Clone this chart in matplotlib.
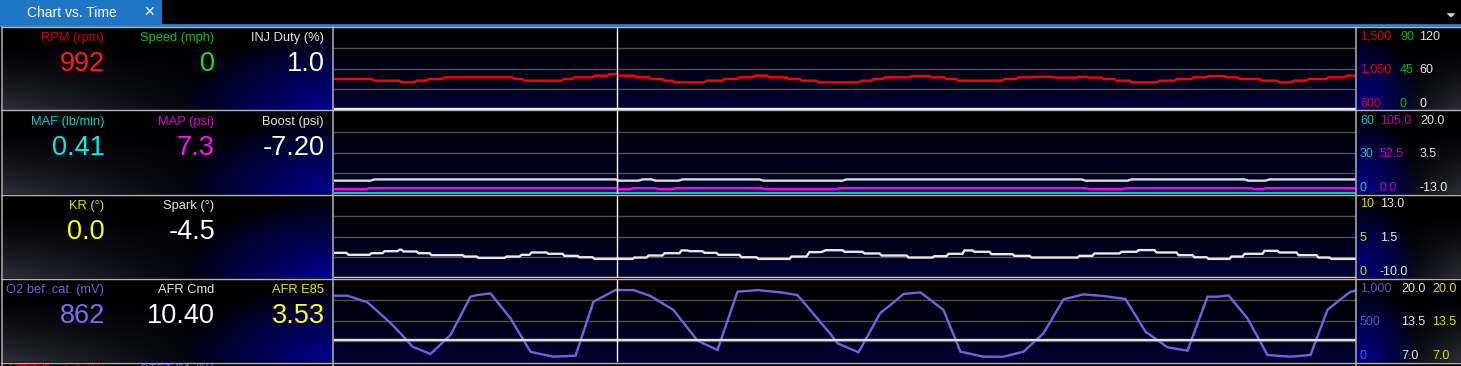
import numpy as np
import matplotlib
matplotlib.use("Agg")
import matplotlib.pyplot as plt
from matplotlib import transforms
from matplotlib.lines import Line2D
from matplotlib.patches import Rectangle, Polygon

W, H = 1461, 366
plt.rcParams['font.family'] = ['Liberation Sans', 'DejaVu Sans']

# ---------------- data (time in seconds across the visible window) ----------------
window_s = 10.22
cursor_s = 2.83
const_t = [0.0, window_s]

# RPM: plateaus (start, end, value)
rpm_t0 = [0.00, 0.41, 0.68, 0.83, 0.95, 1.11, 1.81, 1.91, 2.30, 2.41, 2.61, 2.76, 2.86, 3.03, 3.18, 3.31, 3.41, 3.73,
          3.91, 4.06, 4.21, 4.36, 4.55, 4.68, 4.85, 5.28, 5.40, 5.51, 5.78, 5.98, 6.13, 6.25, 6.71, 6.85, 7.01, 7.21,
          7.46, 7.55, 7.70, 7.83, 7.98, 8.26, 8.43, 8.60, 8.75, 8.93, 9.06, 9.28, 9.45, 9.60, 9.75, 9.95, 10.13]
rpm_t1 = [0.38, 0.66, 0.81, 0.93, 1.09, 1.79, 1.89, 2.28, 2.39, 2.59, 2.74, 2.84, 3.01, 3.16, 3.29, 3.39, 3.71, 3.89,
          4.04, 4.19, 4.34, 4.53, 4.66, 4.83, 5.26, 5.38, 5.49, 5.76, 5.96, 6.11, 6.23, 6.69, 6.83, 6.99, 7.19, 7.44,
          7.53, 7.68, 7.81, 7.96, 8.24, 8.41, 8.58, 8.73, 8.91, 9.04, 9.26, 9.43, 9.58, 9.73, 9.93, 10.11, 10.22]
rpm = [936, 918, 900, 918, 936, 954, 936, 918, 936, 954, 972, 990, 972, 954, 936, 918, 900, 918, 936, 954, 972, 954,
       936, 918, 900, 918, 936, 954, 968, 954, 936, 918, 936, 954, 960, 952, 960, 952, 936, 918, 900, 918, 936, 954,
       968, 954, 936, 918, 900, 918, 936, 954, 972]
speed_mph = [0, 0]
inj_duty = [1.0, 1.0]

maf = [0.41, 0.41]
map_t0 = [0.00, 0.36, 2.85, 2.99, 3.26, 3.42, 4.32, 5.06, 7.56, 7.92, 9.21, 9.33]
map_t1 = [0.32, 2.82, 2.96, 3.22, 3.38, 4.28, 5.02, 7.52, 7.88, 9.18, 9.29, 10.22]
map_psi = [6.0, 7.3, 6.0, 7.3, 6.0, 7.3, 6.0, 7.3, 6.0, 7.3, 6.0, 7.3]
boost_t0 = [0.00, 0.41, 2.85, 3.09, 3.22, 3.49, 4.30, 5.13, 7.52, 7.98, 9.15, 9.36]
boost_t1 = [0.37, 2.82, 3.05, 3.18, 3.45, 4.26, 5.09, 7.48, 7.94, 9.11, 9.32, 10.22]
boost_psi = [-7.7, -7.2, -7.7, -7.2, -7.7, -7.2, -7.7, -7.2, -7.7, -7.2, -7.7, -7.2]

kr = [0.0, 0.0]
spark_t0 = [0.00, 0.15, 0.38, 0.51, 0.66, 0.70, 0.85, 0.98, 1.31, 1.45, 1.73, 1.88, 1.98, 2.15, 2.31, 2.46, 2.61, 3.01,
            3.15, 3.31, 3.48, 3.56, 3.71, 3.85, 4.08, 4.25, 4.58, 4.76, 4.92, 5.11, 5.31, 5.48, 5.75, 6.01, 6.15, 6.31,
            6.41, 6.58, 6.81, 6.98, 7.46, 7.61, 7.88, 8.05, 8.23, 8.45, 8.61, 8.75, 8.98, 9.11, 9.31, 9.46, 9.65, 9.85,
            9.98]
spark_t1 = [0.13, 0.36, 0.49, 0.64, 0.68, 0.83, 0.96, 1.29, 1.43, 1.71, 1.86, 1.96, 2.13, 2.29, 2.44, 2.59, 2.99, 3.13,
            3.29, 3.46, 3.54, 3.69, 3.83, 4.06, 4.23, 4.56, 4.73, 4.88, 5.09, 5.29, 5.46, 5.73, 5.99, 6.13, 6.29, 6.39,
            6.56, 6.79, 6.96, 7.44, 7.59, 7.86, 8.03, 8.21, 8.43, 8.59, 8.73, 8.96, 9.09, 9.29, 9.44, 9.63, 9.83, 9.96,
            10.22]
spark_deg = [-3.03, -3.58, -3.13, -2.57, -2.17, -2.65, -3.13, -3.67, -4.05, -4.42, -4.05, -3.58, -2.93, -3.30, -3.86,
             -4.25, -4.70, -4.33, -3.77, -3.13, -2.37, -2.57, -3.03, -3.58, -4.25, -4.70, -4.05, -2.83, -2.30, -2.74,
             -3.20, -3.77, -4.33, -3.95, -3.30, -2.37, -2.74, -3.40, -3.86, -4.33, -3.86, -3.20, -2.74, -2.27, -2.93,
             -3.67, -4.25, -4.70, -4.05, -3.30, -2.47, -2.93, -3.67, -4.33, -4.70]

o2_t = [0.00, 0.14, 0.34, 0.50, 0.59, 0.67, 0.79, 0.97, 1.17, 1.37, 1.44, 1.57, 1.77, 1.97, 2.04, 2.20, 2.42, 2.60,
        2.82, 3.00, 3.17, 3.40, 3.64, 3.84, 4.04, 4.24, 4.47, 4.64, 4.97, 5.04, 5.25, 5.47, 5.57, 5.70, 5.87, 6.10,
        6.27, 6.50, 6.70, 6.90, 7.10, 7.30, 7.50, 7.70, 7.92, 8.12, 8.34, 8.54, 8.74, 8.84, 8.95, 9.14, 9.34, 9.57,
        9.77, 9.94, 10.04, 10.17, 10.22]
o2_mv = [799, 799, 719, 546, 446, 345, 185, 96, 325, 787, 807, 827, 526, 124, 104, 64, 76, 727, 867, 867, 795, 627,
         257, 145, 847, 867, 839, 807, 337, 225, 117, 594, 687, 819, 839, 627, 124, 64, 64, 124, 345, 755, 815, 795,
         759, 365, 177, 136, 787, 787, 803, 526, 84, 64, 84, 627, 727, 847, 860]
afr_cmd = [10.40, 10.40]
afr_e85 = [3.53, 3.53]

# readouts at the cursor
rpm_now, speed_now, inj_now = 992, 0, 1.0
maf_now, map_now, boost_now = 0.41, 7.3, -7.20
kr_now, spark_now = 0.0, -4.5
o2_now, afr_cmd_now, afr_e85_now = 862, 10.40, 3.53

tab_title = "Chart vs. Time"
next_row_names = ['LTFT Bank 1 (%)', 'STFT B1 (%)']


def plateaus(t0, t1, v):
    t = np.ravel(np.column_stack([t0, t1]))
    y = np.repeat(np.asarray(v, float), 2)
    return t, y


rows = [
    [dict(name='RPM (rpm)', now=rpm_now, nf='{:.0f}', lim=(600, 1500), tf='{:,.0f}',
          lab='#d40000', val='#ff1a1a', tick='#e00000', line='#ff0000', data=plateaus(rpm_t0, rpm_t1, rpm)),
     dict(name='Speed (mph)', now=speed_now, nf='{:.0f}', lim=(0, 90), tf='{:.0f}',
          lab='#00c400', val='#14e614', tick='#00c000', line='#00d000', data=(const_t, speed_mph)),
     dict(name='INJ Duty (%)', now=inj_now, nf='{:.1f}', lim=(0, 120), tf='{:.0f}',
          lab='#e6e6e6', val='#ffffff', tick='#e6e6e6', line='#f4f4f4', data=(const_t, inj_duty))],
    [dict(name='MAF (lb/min)', now=maf_now, nf='{:.2f}', lim=(0, 60), tf='{:.0f}',
          lab='#00d2d2', val='#00f0f0', tick='#00c8c8', line='#00c8c8', data=(const_t, maf)),
     dict(name='MAP (psi)', now=map_now, nf='{:.1f}', lim=(0, 105), tf='{:.1f}',
          lab='#e000e0', val='#ff10ff', tick='#c800c8', line='#ff00ff', data=plateaus(map_t0, map_t1, map_psi)),
     dict(name='Boost (psi)', now=boost_now, nf='{:.2f}', lim=(-13, 20), tf='{:.1f}',
          lab='#e6e6e6', val='#ffffff', tick='#e6e6e6', line='#dcdcdc', data=plateaus(boost_t0, boost_t1, boost_psi))],
    [dict(name='KR (°)', now=kr_now, nf='{:.1f}', lim=(0, 10), tf='{:.0f}',
          lab='#e0e000', val='#ffff00', tick='#d8d800', line='#e8e800', data=(const_t, kr)),
     dict(name='Spark (°)', now=spark_now, nf='{:.1f}', lim=(-10, 13), tf='{:.1f}',
          lab='#e6e6e6', val='#ffffff', tick='#e6e6e6', line='#e8e8e8', data=plateaus(spark_t0, spark_t1, spark_deg))],
    [dict(name='O2 bef. cat. (mV)', now=o2_now, nf='{:.0f}', lim=(0, 1000), tf='{:,.0f}',
          lab='#6e5ee0', val='#7b6cf0', tick='#6050d0', line='#7262e2', data=(o2_t, o2_mv)),
     dict(name='AFR Cmd', now=afr_cmd_now, nf='{:.2f}', lim=(7, 20), tf='{:.1f}',
          lab='#e6e6e6', val='#ffffff', tick='#e6e6e6', line='#e0e0e0', data=(const_t, afr_cmd)),
     dict(name='AFR E85', now=afr_e85_now, nf='{:.2f}', lim=(7, 20), tf='{:.1f}',
          lab='#e6e600', val='#ffff20', tick='#e0e000', line='#ffff00', data=(const_t, afr_e85))],
]

# ---------------- layout (pixels) ----------------
ROW_TOP0, ROW_PITCH, ROW_H = 27, 84, 83
LEFT_X0, LEFT_X1 = 2.5, 332.5
CH_X0, CH_X1 = 333.5, 1355.5
RIGHT_X0 = 1357
label_right = [104, 214, 324]
tick_cols = [[1360, 1400, 1419], [1360, 1380, 1420], [1360, 1380], [1360, 1401, 1432]]

fig = plt.figure(figsize=(W / 100, H / 100), dpi=100, facecolor='black')


def rect(x0, y0, x1, y1):
    return [x0 / W, 1 - y1 / H, (x1 - x0) / W, (y1 - y0) / H]


def fx(x):
    return x / W


def fy(y):
    return 1 - y / H


def gradient(w, h, flip=False, reach=0.45):
    u = np.linspace(0, 1, w)[None, :]
    v = np.linspace(0, 1, h)[:, None]
    if flip:
        u = 1 - u
    blue = np.clip(1.0 - np.hypot((1 - u) / reach, (1 - v) / 0.95), 0, 1) ** 0.9
    gray = np.clip((v - 0.2) / 0.8, 0, 1) ** 1.4 * np.clip(1 - u * 1.6, 0, 1)
    r = 0.18 * gray
    g = 0.18 * gray
    b = 0.18 * gray + 0.52 * blue + 0.04 * v
    return np.clip(np.dstack([r, g, b]), 0, 1)


chart_bg = np.dstack([np.zeros((100, 1)), np.zeros((100, 1)),
                      (np.linspace(0, 1, 100) ** 1.3 * 0.2)[:, None]])

# tab bar
fig.patches.append(Rectangle((0, fy(24)), fx(162), 24 / H, transform=fig.transFigure,
                             facecolor='#1f76c6', edgecolor='none'))
fig.lines.append(Line2D([0, 1], [fy(25), fy(25)], transform=fig.transFigure, color='#2e86d4', lw=1.9))
fig.text(fx(27), fy(17.3), tab_title, color='white', fontsize=10, va='baseline', ha='left')
fig.text(fx(149.5), fy(12.5), '✕', color='#f4f4f4', fontsize=10, fontweight='bold', va='center', ha='center',
         family='DejaVu Sans')
fig.patches.append(Polygon([(fx(1446.5), fy(13.3)), (fx(1455.5), fy(13.3)), (fx(1451), fy(17.5))],
                           closed=True, transform=fig.transFigure, facecolor='#dcdcdc', edgecolor='none'))

for r, series in enumerate(rows):
    top = ROW_TOP0 + r * ROW_PITCH
    bot = top + ROW_H
    # left readout panel
    axl = fig.add_axes(rect(LEFT_X0, top, LEFT_X1, bot))
    axl.imshow(gradient(330, 83), aspect='auto', extent=[0, 1, 0, 1], interpolation='bilinear')
    axl.set_axis_off()
    # right scale panel
    axr = fig.add_axes(rect(RIGHT_X0, top, W, bot))
    axr.imshow(gradient(104, 83, flip=True, reach=0.6), aspect='auto', extent=[0, 1, 0, 1],
               interpolation='bilinear')
    axr.set_axis_off()
    # chart background + grid
    axb = fig.add_axes(rect(CH_X0, top, CH_X1, bot))
    axb.imshow(chart_bg, aspect='auto', extent=[0, 1, 0, 1], interpolation='bilinear')
    axb.set_xlim(0, 1)
    axb.set_ylim(0, 1)
    for q in (0.25, 0.5, 0.75):
        axb.axhline(q, color='#505050', lw=1.0)
    axb.set_axis_off()

    for c, s in enumerate(series):
        ax = fig.add_axes(rect(CH_X0, top, CH_X1, bot), facecolor='none')
        ax.set_xlim(0, window_s)
        ax.set_ylim(*s['lim'])
        ax.set_axis_off()
        tt, yy = s['data']
        ax.plot(tt, yy, color=s['line'], lw=1.7, solid_joinstyle='miter')
        if c == len(series) - 1:
            ax.axvline(cursor_s, color='white', lw=1.0)
        # left labels
        xr = label_right[c]
        fig.text(fx(xr), fy(top + 14), s['name'], color=s['lab'], fontsize=9.3, ha='right', va='baseline')
        fig.text(fx(xr + 1), fy(top + 44), s['nf'].format(s['now']), color=s['val'], fontsize=19.5,
                 ha='right', va='baseline')
        # right scale labels
        lo, hi = s['lim']
        xt = fx(tick_cols[r][c])
        base = transforms.blended_transform_factory(fig.transFigure, ax.transData)
        ax.text(xt, hi, s['tf'].format(hi), color=s['tick'], fontsize=9, ha='left', va='top', clip_on=False,
                transform=transforms.offset_copy(base, fig=fig, x=0, y=-3.5, units='dots'))
        ax.text(xt, (lo + hi) / 2, s['tf'].format((lo + hi) / 2), color=s['tick'], fontsize=9, ha='left',
                va='center_baseline', clip_on=False, transform=base)
        ax.text(xt, lo, s['tf'].format(lo), color=s['tick'], fontsize=9, ha='left', va='baseline', clip_on=False,
                transform=transforms.offset_copy(base, fig=fig, x=0, y=3.3, units='dots'))

# panel borders
border = '#b4b4b4'
for r in range(len(rows) + 1):
    y = ROW_TOP0 - 0.5 + r * ROW_PITCH
    fig.lines.append(Line2D([fx(1), 1], [fy(y), fy(y)], transform=fig.transFigure, color=border, lw=1.0))
for x in (2, 332.8, 1356.3):
    fig.lines.append(Line2D([fx(x), fx(x)], [fy(26.5), 0], transform=fig.transFigure, color=border, lw=1.1))

# next row, only its top edge is in view (as in the reference)
fig.text(fx(9), fy(363.5), next_row_names[0], color='#d40000', fontsize=9.3, ha='left', va='top')
fig.text(fx(140), fy(363.5), next_row_names[1], color='#6e5ee0', fontsize=9.3, ha='left', va='top')

fig.savefig('out.png', dpi=100, facecolor='black')
